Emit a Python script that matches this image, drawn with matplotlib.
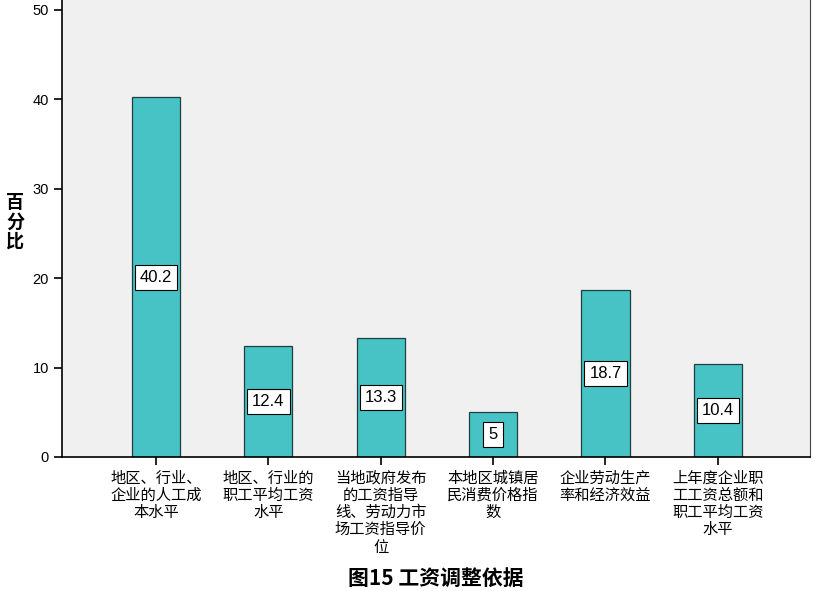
import matplotlib
matplotlib.use("Agg")
import matplotlib.pyplot as plt

categories = [
    "地区、行业、\n企业的人工成\n本水平",
    "地区、行业的\n职工平均工资\n水平",
    "当地政府发布\n的工资指导\n线、劳动力市\n场工资指导价\n位",
    "本地区城镇居\n民消费价格指\n数",
    "企业劳动生产\n率和经济效益",
    "上年度企业职\n工工资总额和\n职工平均工资\n水平",
]
values = [40.2, 12.4, 13.3, 5, 18.7, 10.4]
labels = ["40.2", "12.4", "13.3", "5", "18.7", "10.4"]
yticks = [0, 10, 20, 30, 40, 50]

cjk = ["Noto Sans CJK SC", "DejaVu Sans"]
lat = ["Liberation Sans", "DejaVu Sans"]

fig = plt.figure(figsize=(8.18, 5.91), dpi=100)
ax = fig.add_axes([62/818, 1 - 457/591, (810-62)/818, 457/591])
ax.set_facecolor("#f0f0f0")

x = list(range(len(values)))
ax.bar(x, values, width=0.43, color="#47c3c5", edgecolor="#1f3f40", linewidth=0.9, zorder=2)
for xi, v, lb in zip(x, values, labels):
    ax.text(xi, v/2, lb, ha="center", va="center", fontsize=12, family=lat, zorder=3,
            bbox=dict(boxstyle="square,pad=0.3", facecolor="white", edgecolor="black", linewidth=0.8))

ax.set_xlim(-0.836, 5.82)
ax.set_ylim(0, 51.1)
ax.set_yticks(yticks)
ax.set_yticklabels([str(t) for t in yticks], family=lat, fontsize=10.5)
ax.set_xticks(x)
ax.set_xticklabels(categories, family=cjk, fontsize=11, linespacing=1.02)
ax.tick_params(axis="both", direction="out", length=6, width=1.2, color="black")
ax.tick_params(axis="x", pad=3)
ax.spines["top"].set_visible(False)
ax.spines["right"].set_color("#444444")
ax.spines["left"].set_linewidth(1.2)
ax.spines["bottom"].set_linewidth(1.2)

fig.text(15/818, 1 - 222/591, "百\n分\n比", ha="center", va="center", family=cjk,
         fontsize=13, fontweight="bold", linespacing=1.0)
fig.text(436/818, 1 - 578/591, "图15 工资调整依据", ha="center", va="center", family=cjk,
         fontsize=15, fontweight="bold")

fig.savefig("out.png", dpi=100)
